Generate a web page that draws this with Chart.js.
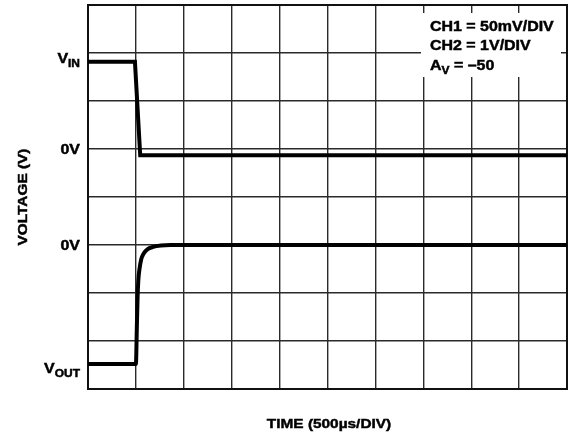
<!DOCTYPE html>
<html>
<head>
<meta charset="utf-8">
<script src="https://cdn.jsdelivr.net/npm/chart.js@4"></script>
<style>
  html, body { margin: 0; padding: 0; background: #fff; }
  #wrap { width: 568px; height: 434px; }
</style>
</head>
<body>
<div id="wrap"><canvas id="scope"></canvas></div>
<script>
// time axis in divisions (500us/div), voltage axis in divisions
const ch1Time = [0, 0.98, 1.09, 10];
const ch1Level = [6.82, 6.82, 4.87, 4.87];
const ch2Time = [0, 1.0, 1.02, 1.035, 1.05, 1.075, 1.11, 1.16, 1.24, 1.36, 1.52, 1.72, 10];
const ch2Level = [0.52, 0.52, 1.3, 1.9, 2.25, 2.5, 2.7, 2.82, 2.91, 2.96, 2.99, 3.0, 3.0];

const yLabels = [
  { value: 6.82, main: 'V', sub: 'IN' },
  { value: 5, main: '0V', sub: '' },
  { value: 3, main: '0V', sub: '' },
  { value: 0.52, main: 'V', sub: 'OUT' }
];
const noteLines = ['CH1 = 50mV/DIV', 'CH2 = 1V/DIV'];
const xTitle = 'TIME (500\u00b5s/DIV)';
const yTitle = 'VOLTAGE (V)';

const FONT = '"Liberation Sans", Arial, sans-serif';
const STRETCH = 1.14;

function toPoints(xs, ys) {
  return xs.map((x, i) => ({ x: x, y: ys[i] }));
}

function stretchedWidth(ctx, text, size) {
  ctx.font = 'bold ' + size + 'px ' + FONT;
  return ctx.measureText(text).width * STRETCH;
}

function drawText(ctx, text, x, y, size) {
  ctx.save();
  ctx.font = 'bold ' + size + 'px ' + FONT;
  ctx.textAlign = 'left';
  ctx.textBaseline = 'alphabetic';
  ctx.fillStyle = '#000';
  ctx.strokeStyle = '#000';
  ctx.lineWidth = 0.45;
  ctx.translate(x, y);
  ctx.scale(STRETCH, 1);
  ctx.fillText(text, 0, 0);
  ctx.strokeText(text, 0, 0);
  ctx.restore();
  return stretchedWidth(ctx, text, size);
}

const scopeDecor = {
  id: 'scopeDecor',
  beforeDatasetsDraw(chart) {
    const ctx = chart.ctx;
    const a = chart.chartArea;
    // white box behind the settings note
    ctx.save();
    ctx.fillStyle = '#fff';
    ctx.fillRect(421, 13, 140, 64);
    ctx.restore();
    // frame
    ctx.save();
    ctx.strokeStyle = '#111';
    ctx.lineWidth = 2;
    ctx.strokeRect(a.left, a.top, a.right - a.left, a.bottom - a.top);
    ctx.restore();
  },
  afterDraw(chart) {
    const ctx = chart.ctx;
    const yScale = chart.scales.y;

    // y tick labels with subscripts, right aligned next to the axis
    yLabels.forEach(l => {
      const py = yScale.getPixelForValue(l.value);
      const wMain = stretchedWidth(ctx, l.main, 14);
      const wSub = l.sub ? stretchedWidth(ctx, l.sub, 10.5) : 0;
      const right = 80;
      let x = right - wMain - wSub;
      const base = l.sub ? (l.sub === 'IN' ? py + 1.5 : py + 9) : py + 5;
      x += drawText(ctx, l.main, x, base, 14);
      if (l.sub) drawText(ctx, l.sub, x, base + 4, 10.5);
    });

    // settings note
    drawText(ctx, noteLines[0], 430, 31, 14);
    drawText(ctx, noteLines[1], 430, 50, 14);
    let nx = 430;
    nx += drawText(ctx, 'A', nx, 70, 14);
    nx += drawText(ctx, 'V', nx, 74, 10.5);
    drawText(ctx, ' = \u201350', nx, 70, 14);

    // axis titles
    const wx = stretchedWidth(ctx, xTitle, 13.5);
    drawText(ctx, xTitle, 329 - wx / 2, 428, 13.5);

    ctx.save();
    ctx.translate(27, 197);
    ctx.rotate(-Math.PI / 2);
    const wy = stretchedWidth(ctx, yTitle, 13.5);
    drawText(ctx, yTitle, -wy / 2, 0, 13.5);
    ctx.restore();
  }
};

const ctx = document.getElementById('scope').getContext('2d');
const chart = new Chart(ctx, {
  type: 'line',
  data: {
    datasets: [
      {
        label: 'CH1',
        data: toPoints(ch1Time, ch1Level),
        borderColor: '#000',
        borderWidth: 4,
        pointRadius: 0,
        tension: 0,
        borderJoinStyle: 'miter'
      },
      {
        label: 'CH2',
        data: toPoints(ch2Time, ch2Level),
        borderColor: '#000',
        borderWidth: 4,
        pointRadius: 0,
        cubicInterpolationMode: 'monotone'
      }
    ]
  },
  options: {
    responsive: true,
    maintainAspectRatio: false,
    animation: false,
    layout: { padding: { left: 88, top: 5, right: 1, bottom: 45 } },
    plugins: {
      legend: { display: false },
      tooltip: { enabled: false }
    },
    scales: {
      x: {
        type: 'linear',
        min: 0,
        max: 10,
        ticks: { display: false, stepSize: 1 },
        grid: { color: '#2a2a2a', lineWidth: 1.4, drawTicks: false },
        border: { display: false }
      },
      y: {
        type: 'linear',
        min: 0,
        max: 8,
        ticks: { display: false, stepSize: 1 },
        grid: { color: '#2a2a2a', lineWidth: 1.4, drawTicks: false },
        border: { display: false }
      }
    }
  },
  plugins: [scopeDecor]
});
</script>
</body>
</html>
